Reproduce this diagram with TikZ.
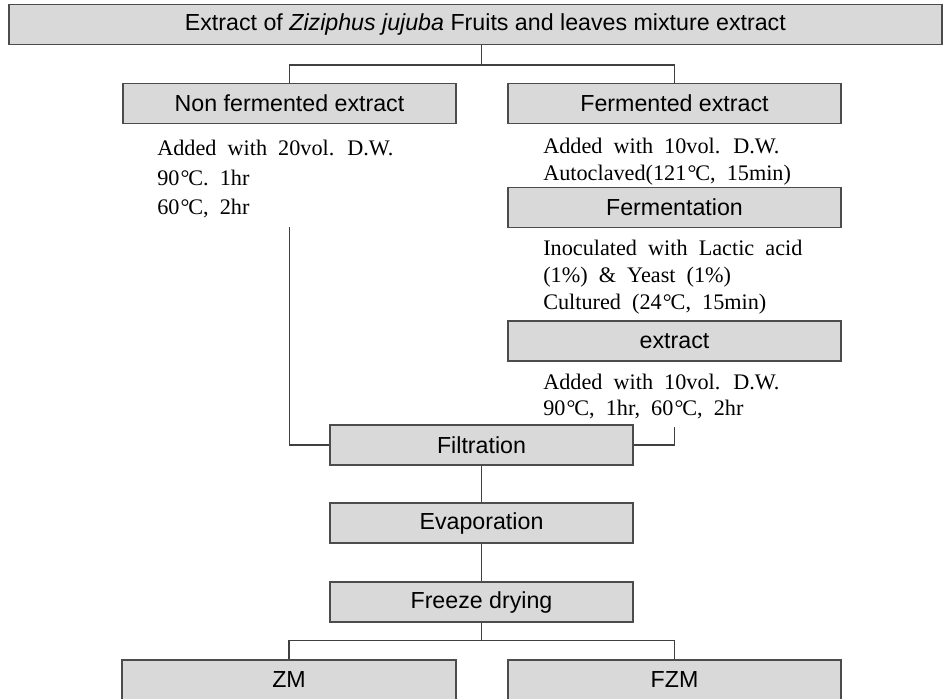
\documentclass[tikz,border=0pt]{standalone}
\usepackage{fontspec}
\setmainfont{Liberation Serif}[WordSpace=2]
\setsansfont{Liberation Sans}
\newcommand{\degC}{\kern0.05em°\kern-0.05em C}
\usepackage{tikz}

\begin{document}
\begin{tikzpicture}[x=0.025cm, y=-0.025cm,
  box/.style={draw=black!70, fill=gray!30, line width=1.1pt, minimum height=0.99cm, inner sep=0pt, font=\sffamily\fontsize{16.5}{19}\selectfont},
  note/.style={anchor=base west, inner sep=0pt, font=\fontsize{15.8}{18}\selectfont},
  link/.style={draw=black!75, line width=1pt}]
\useasboundingbox (0,0) rectangle (944,698);
\clip (0,0) rectangle (944,698);
\node[box, minimum width=23.325cm] (T) at (475.5,24.5) {\hspace{14pt}Extract of \textit{Ziziphus jujuba} Fruits and leaves mixture extract};
\node[box, minimum width=8.325cm] (N) at (289.5,103.5) {Non fermented extract};
\node[box, minimum width=8.325cm] (F) at (674.5,103.5) {Fermented extract};
\node[box, minimum width=8.325cm] (Fm) at (674.5,207.5) {Fermentation};
\node[box, minimum width=8.325cm] (E) at (674.5,341) {extract};
\node[box, minimum width=7.575cm] (Fi) at (481.5,445) {Filtration};
\node[box, minimum width=7.575cm] (Ev) at (481.5,523) {Evaporation};
\node[box, minimum width=7.575cm] (Fd) at (481.5,602) {Freeze drying};
\node[box, minimum width=8.35cm] (ZM) at (289,680) {ZM};
\node[box, minimum width=8.325cm] (FZM) at (674.5,680) {FZM};
% conditions
\node[note] (n1) at (157,155.5) {Added with 20vol. D.W.};
\node[note] (n2) at (157,185.5) {90\degC. 1hr};
\node[note] (n3) at (157,214.5) {60\degC, 2hr};
\node[note] (f1) at (543,153.5) {Added with 10vol. D.W.};
\node[note] (f2) at (543,180.5) {Autoclaved(121\degC, 15min)};
\node[note] (m1) at (543,255.5) {Inoculated with Lactic acid};
\node[note] (m2) at (543,282.5) {(1\%) \& Yeast (1\%)};
\node[note] (m3) at (543,309.5) {Cultured (24\degC, 15min)};
\node[note] (e1) at (543,389.5) {Added with 10vol. D.W.};
\node[note] (e2) at (543,415.5) {90\degC, 1hr, 60\degC, 2hr};
% connectors
\draw[link] (T.south -| Fi) -- ++(0,20) coordinate (j1);
\draw[link] (j1) -| (N);
\draw[link] (j1) -| (F);
\coordinate (l0) at (289.5,227);
\coordinate (r0) at (674.5,427);
\draw[link] (l0) |- (Fi);
\draw[link] (r0) |- (Fi);
\draw[link] (Fi) -- (Ev);
\draw[link] (Ev) -- (Fd);
\draw[link] (Fd.south) -- ++(0,18) coordinate (j2);
\draw[link] (j2) -| (ZM);
\draw[link] (j2) -| (FZM);
\end{tikzpicture}
\end{document}
